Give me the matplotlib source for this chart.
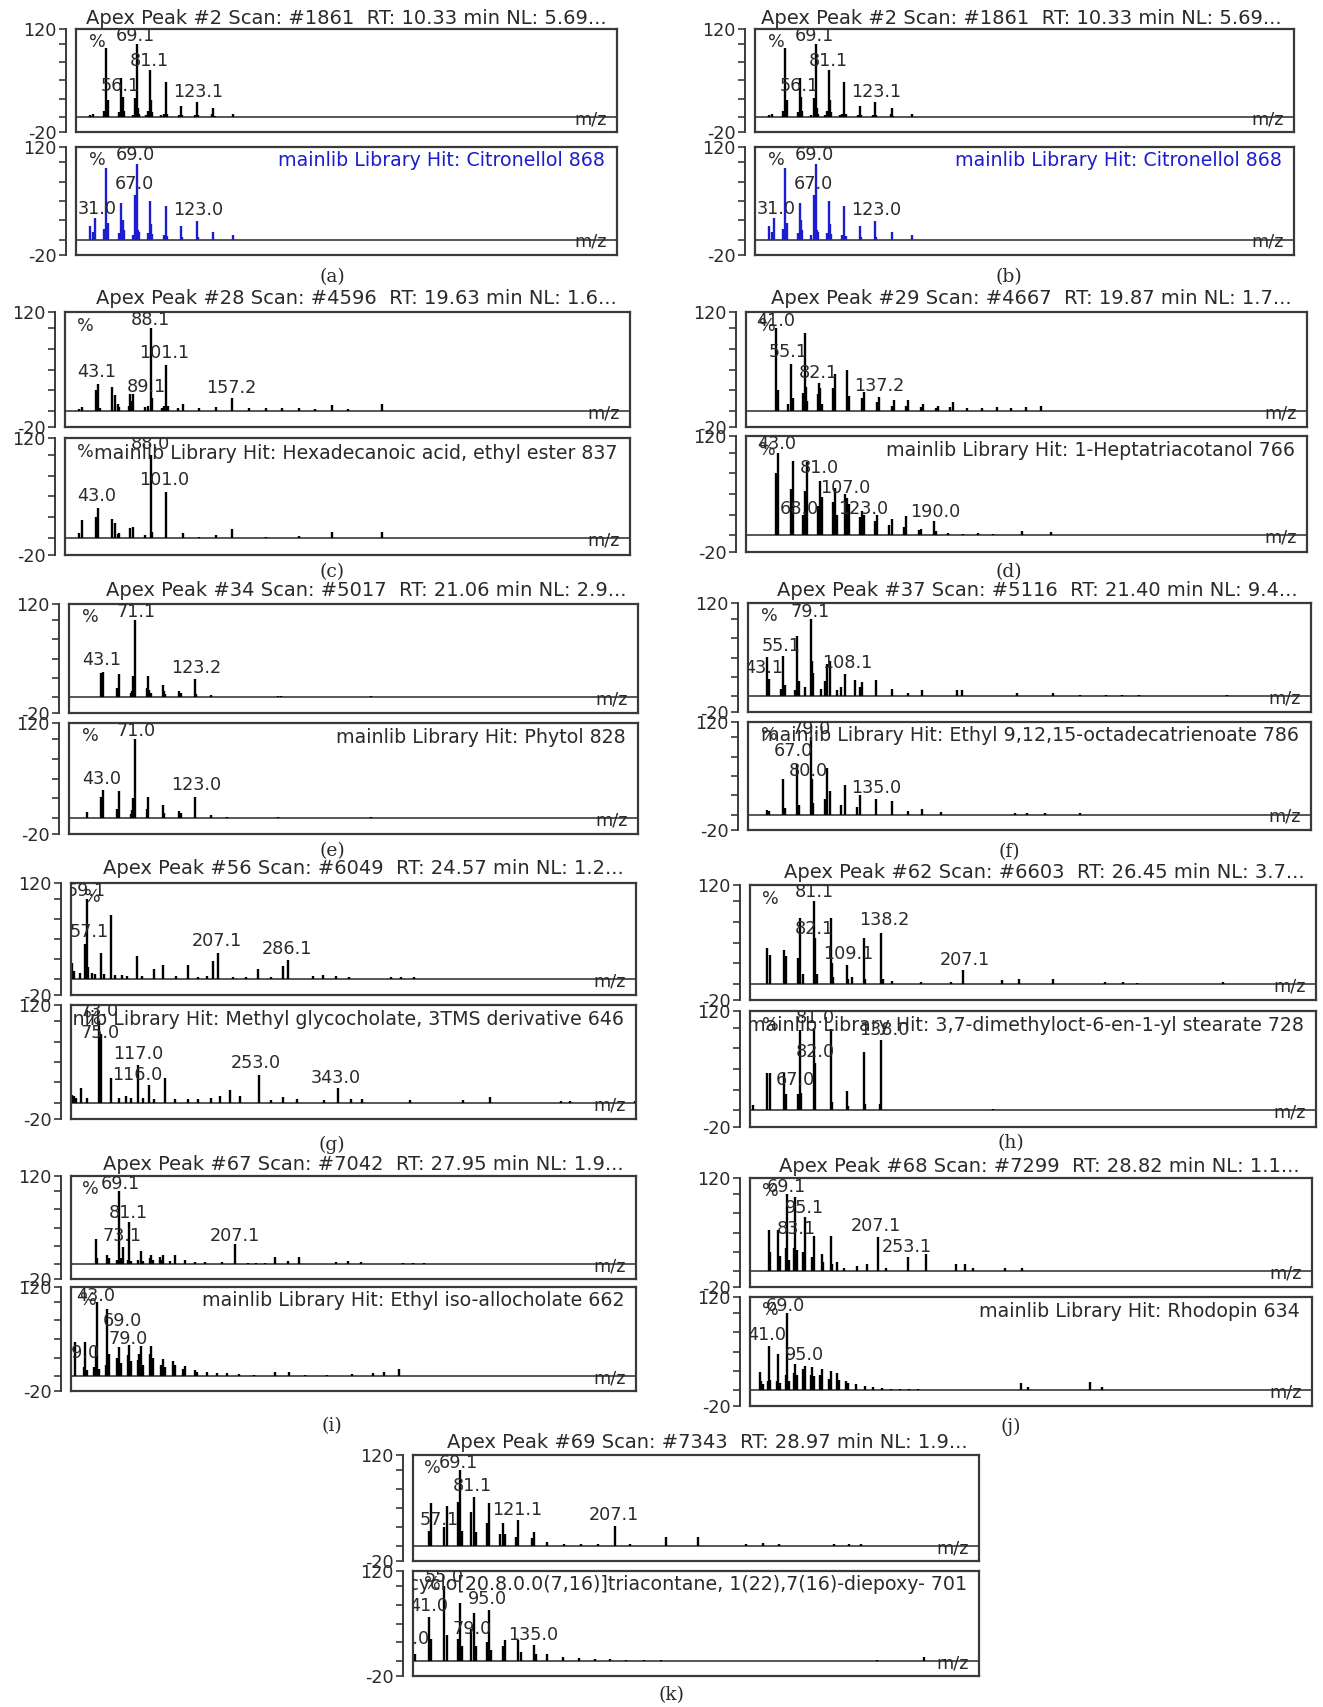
import matplotlib
matplotlib.use("Agg")
import matplotlib.pyplot as plt
from matplotlib.ticker import FixedLocator
from matplotlib.transforms import blended_transform_factory

# ---------------------------------------------------------------- data
TITLE_AB = "Apex Peak #2 Scan: #1861  RT: 10.33 min NL: 5.69..."
TITLE_C = "Apex Peak #28 Scan: #4596  RT: 19.63 min NL: 1.6..."
TITLE_D = "Apex Peak #29 Scan: #4667  RT: 19.87 min NL: 1.7..."
TITLE_E = "Apex Peak #34 Scan: #5017  RT: 21.06 min NL: 2.9..."
TITLE_F = "Apex Peak #37 Scan: #5116  RT: 21.40 min NL: 9.4..."
TITLE_G = "Apex Peak #56 Scan: #6049  RT: 24.57 min NL: 1.2..."
TITLE_H = "Apex Peak #62 Scan: #6603  RT: 26.45 min NL: 3.7..."
TITLE_I = "Apex Peak #67 Scan: #7042  RT: 27.95 min NL: 1.9..."
TITLE_J = "Apex Peak #68 Scan: #7299  RT: 28.82 min NL: 1.1..."
TITLE_K = "Apex Peak #69 Scan: #7343  RT: 28.97 min NL: 1.9..."

HIT_AB = "mainlib Library Hit: Citronellol 868"
HIT_C = "mainlib Library Hit: Hexadecanoic acid, ethyl ester 837"
HIT_D = "mainlib Library Hit: 1-Heptatriacotanol 766"
HIT_E = "mainlib Library Hit: Phytol 828"
HIT_F = "mainlib Library Hit: Ethyl 9,12,15-octadecatrienoate 786"
HIT_G = "mainlib Library Hit: Methyl glycocholate, 3TMS derivative 646"
HIT_H = "mainlib Library Hit: 3,7-dimethyloct-6-en-1-yl stearate 728"
HIT_I = "mainlib Library Hit: Ethyl iso-allocholate 662"
HIT_J = "mainlib Library Hit: Rhodopin 634"
HIT_K = "mainlib Library Hit: Tricyclo[20.8.0.0(7,16)]triacontane, 1(22),7(16)-diepoxy- 701"

# m/z ranges of each panel
XR_AB = (14, 502)
XR_C = (15, 494)
XR_D = (12.6, 546)
XR_E = (12.8, 512)
XR_F = (24.7, 510)
XR_G = (41.4, 678.5)
XR_H = (26.4, 507)
XR_I = (11.8, 682.6)
XR_J = (11.7, 870.6)
XR_K = (27, 532)

A_TOP_MZ = [27, 29, 39, 41, 42, 43, 53, 54, 55, 56, 57, 65, 67, 68, 69, 70, 71, 77, 79, 81, 82, 83,
            91, 93, 95, 96, 107, 109, 110, 121, 123, 124, 137, 138, 139, 147, 156, 256, 284]
A_TOP_INT = [3, 4, 8, 94, 6, 24, 7, 3, 54, 28, 9, 3, 26, 20, 100, 12, 5, 3, 8, 64, 24, 7,
             3, 5, 48, 5, 3, 16, 3, 3, 21, 3, 4, 13, 2, 1, 5, 1, 1]
A_BOT_MZ = [27, 29, 31, 39, 41, 42, 43, 53, 55, 56, 57, 65, 67, 68, 69, 70, 71, 79, 81, 82, 83,
            93, 95, 96, 109, 110, 123, 124, 138, 156]
A_BOT_INT = [17, 10, 28, 14, 93, 10, 22, 9, 48, 25, 12, 6, 58, 24, 98, 12, 10, 8, 50, 20, 7,
             6, 44, 5, 18, 3, 24, 3, 10, 6]

C_TOP_MZ = [27, 29, 41, 42, 43, 45, 55, 57, 60, 61, 69, 70, 71, 73, 83, 85, 88, 89, 97, 99, 101, 102,
            111, 115, 129, 143, 157, 171, 185, 199, 213, 227, 241, 255, 284]
C_TOP_INT = [2, 4, 25, 4, 32, 3, 29, 19, 8, 4, 6, 20, 12, 20, 4, 5, 100, 15, 3, 5, 55, 6,
             3, 8, 3, 4, 15, 3, 3, 3, 3, 2, 7, 2, 8]
C_BOT_MZ = [27, 29, 41, 43, 55, 57, 60, 61, 70, 73, 83, 88, 89, 101, 115, 129, 143, 157,
            185, 213, 241, 284]
C_BOT_INT = [6, 22, 26, 36, 23, 18, 5, 6, 12, 14, 4, 100, 8, 55, 6, 2, 4, 11, 2, 3, 7, 8]

D_TOP_MZ = [41, 43, 53, 55, 57, 67, 69, 70, 71, 81, 82, 83, 85, 95, 96, 97, 109, 111, 123, 125,
            137, 139, 151, 153, 165, 167, 179, 181, 193, 195, 207, 209, 223, 237, 251, 265, 279, 293]
D_TOP_INT = [100, 25, 8, 57, 15, 22, 95, 29, 12, 20, 33, 28, 8, 28, 12, 45, 49, 18, 15, 23,
             10, 17, 6, 13, 5, 13, 4, 8, 3, 6, 4, 10, 3, 3, 4, 3, 4, 6]
D_BOT_MZ = [41, 43, 55, 57, 67, 69, 71, 81, 83, 85, 95, 97, 99, 107, 109, 111, 121, 123, 125,
            135, 137, 149, 151, 163, 165, 177, 179, 191, 193, 205, 219, 233, 247, 275, 303]
D_BOT_INT = [75, 100, 56, 90, 25, 54, 89, 35, 66, 46, 40, 57, 25, 50, 45, 38, 22, 30, 25,
             18, 25, 12, 20, 10, 24, 6, 8, 17, 5, 3, 2, 3, 2, 5, 4]

E_TOP_MZ = [41, 43, 55, 57, 67, 68, 69, 71, 81, 82, 83, 85, 95, 96, 97, 109, 111, 123, 124, 137,
            165, 196, 199, 278]
E_TOP_INT = [31, 33, 12, 30, 6, 8, 27, 100, 12, 27, 10, 6, 16, 8, 5, 8, 6, 24, 4, 3, 1, 2, 2, 2]
E_BOT_MZ = [29, 41, 43, 55, 57, 67, 68, 69, 71, 81, 82, 95, 96, 109, 111, 123, 137, 151, 196, 278]
E_BOT_INT = [8, 27, 36, 12, 34, 5, 10, 25, 100, 12, 27, 16, 6, 9, 6, 27, 4, 1, 1, 1]

F_TOP_MZ = [41, 43, 53, 55, 57, 65, 67, 69, 74, 79, 80, 81, 88, 91, 93, 95, 101, 105, 108, 117,
            121, 123, 135, 149, 163, 175, 205, 209, 257, 288, 311, 333, 347, 362, 438]
F_TOP_INT = [51, 23, 10, 52, 15, 8, 77, 20, 12, 100, 46, 30, 10, 20, 42, 46, 8, 12, 29, 21,
             12, 19, 21, 10, 5, 8, 8, 8, 4, 5, 2, 2, 2, 2, 2]
F_BOT_MZ = [41, 43, 55, 57, 67, 69, 79, 80, 81, 91, 93, 95, 105, 108, 119, 121, 135, 149, 163,
            175, 191, 255, 265, 281, 311]
F_BOT_INT = [6, 4, 46, 8, 66, 12, 100, 46, 15, 20, 60, 30, 12, 38, 10, 25, 20, 17, 5, 7, 3, 2, 2, 2, 2]

G_TOP_MZ = [42, 45, 52, 57, 59, 61, 65, 69, 75, 79, 86, 91, 99, 105, 116, 121, 135, 145, 160, 173,
            185, 195, 201, 207, 224, 239, 252, 267, 280, 286, 314, 326, 340, 355, 402, 414, 428]
G_TOP_INT = [20, 10, 8, 44, 100, 15, 8, 6, 33, 6, 80, 5, 5, 4, 29, 4, 13, 17, 4, 17,
             3, 4, 22, 33, 3, 3, 13, 3, 16, 24, 4, 5, 4, 2, 2, 2, 2]
G_BOT_MZ = [43, 45, 47, 53, 59, 73, 75, 86, 95, 103, 109, 117, 123, 129, 135, 147, 159, 173, 185,
            199, 209, 221, 232, 253, 267, 281, 296, 327, 343, 357, 369, 424, 483, 514, 594, 604, 677]
G_BOT_INT = [10, 8, 6, 18, 6, 100, 85, 30, 6, 8, 6, 46, 6, 22, 5, 30, 5, 4, 5,
             6, 8, 16, 8, 34, 3, 7, 5, 3, 18, 4, 4, 3, 3, 7, 2, 2, 2]

H_TOP_MZ = [41, 43, 55, 57, 67, 69, 71, 81, 82, 83, 95, 96, 97, 109, 110, 113, 123, 124, 138, 139,
            147, 172, 197, 207, 240, 255, 284, 328, 343, 355, 428]
H_TOP_INT = [43, 35, 41, 34, 31, 80, 12, 100, 55, 12, 80, 25, 8, 23, 6, 8, 56, 6, 62, 6,
             3, 2, 2, 17, 4, 5, 5, 2, 2, 1, 2]
H_BOT_MZ = [29, 41, 43, 55, 57, 67, 69, 70, 81, 82, 95, 96, 109, 110, 123, 124, 137, 138, 233]
H_BOT_INT = [7, 45, 45, 45, 20, 20, 97, 21, 100, 57, 98, 10, 23, 5, 71, 8, 8, 85, 2]

I_TOP_MZ = [41, 43, 55, 57, 67, 69, 71, 73, 79, 81, 83, 91, 95, 97, 105, 107, 109, 117, 119, 121,
            129, 135, 147, 159, 171, 191, 207, 222, 232, 242, 254, 269, 282, 326, 341, 356, 406, 418, 431]
I_TOP_INT = [34, 8, 12, 8, 6, 100, 8, 24, 6, 58, 5, 6, 18, 5, 8, 12, 6, 10, 6, 12,
             5, 13, 6, 3, 3, 3, 27, 2, 2, 2, 10, 5, 10, 3, 5, 3, 2, 2, 2]
I_BOT_MZ = [17, 27, 29, 31, 39, 41, 43, 45, 53, 55, 57, 67, 69, 71, 79, 81, 83, 91, 93, 95, 97,
            105, 107, 109, 119, 121, 123, 133, 135, 145, 147, 159, 161, 173, 185, 197, 211, 229,
            254, 271, 290, 316, 345, 370, 384, 401]
I_BOT_INT = [46, 12, 46, 8, 12, 40, 100, 10, 15, 90, 30, 25, 39, 18, 28, 42, 20, 22, 30, 40, 15,
             30, 41, 25, 15, 23, 12, 20, 15, 10, 14, 8, 6, 5, 4, 4, 3, 2,
             6, 5, 2, 2, 3, 4, 6, 9]

J_TOP_MZ = [41, 43, 55, 57, 67, 69, 71, 79, 81, 83, 93, 95, 107, 109, 121, 123, 135, 137, 145,
            156, 175, 191, 207, 220, 253, 280, 327, 340, 352, 401, 427]
J_TOP_INT = [53, 25, 53, 20, 30, 100, 15, 30, 96, 28, 25, 70, 18, 46, 23, 12, 46, 10, 12,
             5, 7, 9, 44, 5, 19, 22, 10, 10, 4, 4, 4]
J_BOT_MZ = [27, 29, 31, 39, 41, 43, 53, 55, 57, 67, 69, 71, 79, 81, 83, 93, 95, 105, 107, 109,
            119, 121, 133, 135, 145, 147, 159, 161, 173, 187, 199, 213, 227, 241, 255, 269, 283,
            426, 437, 532, 549]
J_BOT_INT = [24, 12, 8, 12, 57, 14, 12, 47, 10, 20, 100, 12, 22, 34, 20, 28, 32, 20, 30, 18,
             20, 27, 15, 25, 22, 14, 12, 10, 8, 6, 4, 3, 2, 2, 2, 2, 1,
             10, 4, 11, 5]

K_TOP_MZ = [41, 43, 55, 57, 67, 69, 71, 79, 81, 83, 93, 95, 105, 107, 109, 119, 121, 133, 135,
            147, 162, 177, 192, 207, 221, 253, 281, 324, 339, 354, 403, 416, 427]
K_TOP_INT = [20, 56, 25, 52, 58, 100, 20, 45, 65, 18, 30, 56, 15, 30, 15, 12, 34, 10, 18,
             5, 2, 2, 2, 26, 3, 12, 12, 3, 4, 2, 2, 2, 2]
K_BOT_MZ = [29, 41, 43, 55, 57, 67, 69, 71, 79, 81, 83, 93, 95, 97, 107, 109, 121, 123, 135,
            137, 147, 161, 175, 189, 203, 217, 233, 248, 441, 483, 502]
K_BOT_INT = [10, 59, 30, 100, 35, 30, 77, 20, 43, 64, 20, 25, 68, 15, 20, 28, 28, 12, 21,
             10, 10, 6, 4, 3, 3, 2, 2, 1, 2, 5, 3]

# peak annotations: (text, m/z, height)
A_TOP_LBL = [("69.1", 68, 110), ("81.1", 80.4, 76), ("56.1", 54, 42), ("123.1", 124, 35)]
A_BOT_LBL = [("69.0", 68, 109), ("67.0", 66.6, 72), ("31.0", 33, 39), ("123.0", 124, 38)]
C_TOP_LBL = [("88.1", 87.8, 110), ("101.1", 99.2, 70), ("43.1", 42.2, 47), ("89.1", 84.3, 29),
             ("157.2", 156.1, 28)]
C_BOT_LBL = [("88.0", 87.8, 113), ("101.0", 99.2, 70), ("43.0", 42.2, 51)]
D_TOP_LBL = [("41.0", 41, 109), ("55.1", 53, 71), ("82.1", 81, 46), ("137.2", 139, 30)]
D_BOT_LBL = [("43.0", 42, 110), ("81.0", 82.4, 81), ("107.0", 107, 57), ("68.0", 63.6, 32),
             ("123.0", 124.4, 32), ("190.0", 192.4, 28)]
E_TOP_LBL = [("71.1", 71.7, 110), ("43.1", 41.4, 48), ("123.2", 124, 38)]
E_BOT_LBL = [("71.0", 71.7, 110), ("43.0", 41.4, 50), ("123.0", 124, 42)]
F_TOP_LBL = [("79.1", 78.3, 109), ("55.1", 53, 65), ("43.1", 38, 37), ("108.1", 110, 43)]
F_BOT_LBL = [("79.0", 79.4, 111), ("67.0", 64.2, 82), ("80.0", 76.7, 56), ("135.0", 135.6, 34)]
G_TOP_LBL = [("59.1", 58.9, 110), ("57.1", 62.2, 59), ("207.1", 205.6, 48), ("286.1", 284.6, 37)]
G_BOT_LBL = [("73.0", 73, 113), ("75.0", 74.4, 86), ("117.0", 117, 60), ("116.0", 116, 34),
             ("253.0", 250, 49), ("343.0", 340, 30)]
H_TOP_LBL = [("81.1", 81.3, 111), ("82.1", 81.3, 67), ("138.2", 140, 77), ("109.1", 110, 36),
             ("207.1", 209, 29)]
H_BOT_LBL = [("81.0", 81.7, 111), ("82.0", 81.7, 71), ("67.0", 65.3, 37), ("138.0", 140, 97)]
I_TOP_LBL = [("69.1", 70, 109), ("81.1", 80, 70), ("73.1", 72.5, 38), ("207.1", 206, 39)]
I_BOT_LBL = [("43.0", 41.7, 108), ("69.0", 72.5, 74), ("79.0", 80, 50), ("29.0", 22.7, 31)]
J_TOP_LBL = [("69.1", 67.1, 109), ("95.1", 94.7, 82), ("83.1", 82, 54), ("207.1", 204.7, 58),
             ("253.1", 251.7, 32)]
J_BOT_LBL = [("69.0", 66.4, 108), ("41.0", 37, 71), ("95.0", 94.7, 46)]
K_TOP_LBL = [("69.1", 67.1, 110), ("81.1", 79.5, 79), ("57.1", 50.8, 34), ("121.1", 119.6, 47),
             ("207.1", 205.9, 41)]
K_BOT_LBL = [("55.0", 54.8, 112), ("41.0", 40.9, 73), ("95.0", 93.4, 82), ("79.0", 79.5, 43),
             ("29.0", 25, 30), ("135.0", 134.6, 35)]

# ---------------------------------------------------------------- figure
W, H = 1323, 1707
DPI = 100
plt.rcParams['axes.unicode_minus'] = False
plt.rcParams['font.family'] = ['DejaVu Sans']
fig = plt.figure(figsize=(W / DPI, H / DPI), dpi=DPI)

TXT = '#2a2a2a'
LINE = '#3a3a3a'
BLUE = '#1c1cd0'
FS_LBL = 12.7
FS_HIT = 13.7
FS_TITLE = 14
SPINE_OFF = 10  # px


def px_axes(x0, x1, y0, y1):
    return fig.add_axes([x0 / W, 1 - y1 / H, (x1 - x0) / W, (y1 - y0) / H])


def spectrum(ax, mz, inten, xr, color, labels, pct_x, hit=None, hit_color=TXT):
    wpx = ax.get_position().width * W
    ax.set_xlim(*xr)
    ax.set_ylim(-20, 120)
    ax.vlines(mz, 0, inten, colors=color, lw=1.7, zorder=2)
    ax.axhline(0, color=LINE, lw=1.2, zorder=1.5)
    for s in ['top', 'right', 'bottom']:
        ax.spines[s].set_linewidth(1.6)
        ax.spines[s].set_color(LINE)
    ax.spines['left'].set_position(('outward', SPINE_OFF * 72 / DPI))
    ax.spines['left'].set_linewidth(1.4)
    ax.spines['left'].set_color(LINE)
    ax.plot([0, 0], [0, 1], transform=ax.transAxes, color=LINE, lw=1.6, clip_on=False)
    ax.set_xticks([])
    ax.set_yticks([-20, 120])
    ax.set_yticklabels(['-20', '120'])
    ax.yaxis.set_minor_locator(FixedLocator([0, 25, 50, 75, 100]))
    ax.tick_params(axis='y', which='both', direction='out', length=5, width=1.2,
                   color=LINE, labelsize=12.7, labelcolor=TXT, pad=2)
    ax.patch.set_alpha(0)
    bt = blended_transform_factory(ax.transAxes, ax.transData)
    ax.text(pct_x, 103, '%', ha='center', va='center', fontsize=FS_LBL, color=TXT, clip_on=True)
    ax.text(1 - 10 / wpx, -3, 'm/z', ha='right', va='center', transform=bt,
            fontsize=FS_LBL, color=TXT)
    for txt, x, y in labels:
        ax.text(x, y, txt, ha='center', va='center', fontsize=FS_LBL, color=TXT, clip_on=True)
    if hit:
        ax.text(1 - 12 / wpx, 102, hit, ha='right', va='center', transform=bt,
                fontsize=FS_HIT, color=hit_color, clip_on=True)


def panel(geom, title, cap, xr, top, bot, bot_color, hit, hit_color, pct_top, pct_bot):
    bx0, bx1, ty0, ty1, by0, by1, tx, tyy, cx, cy = geom
    ax1 = px_axes(bx0, bx1, ty0, ty1)
    spectrum(ax1, top[0], top[1], xr, 'black', top[2], pct_top)
    ax2 = px_axes(bx0, bx1, by0, by1)
    spectrum(ax2, bot[0], bot[1], xr, bot_color, bot[2], pct_bot, hit, hit_color)
    fig.text(tx / W, 1 - tyy / H, title, ha='right', va='center', fontsize=FS_TITLE, color=TXT)
    fig.text(cx / W, 1 - cy / H, cap, ha='center', va='center', fontsize=13.5,
             family='DejaVu Serif', color=TXT)


# geometry in pixels: box x0, x1, top y0, y1, bottom y0, y1, title right x, title y, caption x, y
panel((76, 617, 29, 132, 147, 255, 607, 18, 332, 277), TITLE_AB, '(a)', XR_AB,
      (A_TOP_MZ, A_TOP_INT, A_TOP_LBL), (A_BOT_MZ, A_BOT_INT, A_BOT_LBL), BLUE, HIT_AB, BLUE, 33, 33)
panel((755, 1294, 29, 132, 147, 255, 1282, 18, 1009, 277), TITLE_AB, '(b)', XR_AB,
      (A_TOP_MZ, A_TOP_INT, A_TOP_LBL), (A_BOT_MZ, A_BOT_INT, A_BOT_LBL), BLUE, HIT_AB, BLUE, 33, 33)
panel((65, 630, 312, 427, 438, 555, 617, 298, 332, 572), TITLE_C, '(c)', XR_C,
      (C_TOP_MZ, C_TOP_INT, C_TOP_LBL), (C_BOT_MZ, C_BOT_INT, C_BOT_LBL), 'black', HIT_C, TXT, 32.5, 32.5)
panel((746, 1307, 312, 427, 436, 552, 1292, 298, 1009, 572), TITLE_D, '(d)', XR_D,
      (D_TOP_MZ, D_TOP_INT, D_TOP_LBL), (D_BOT_MZ, D_BOT_INT, D_BOT_LBL), 'black', HIT_D, TXT, 33, 33)
panel((69, 638, 604, 713, 723, 834, 626, 591, 332, 851), TITLE_E, '(e)', XR_E,
      (E_TOP_MZ, E_TOP_INT, E_TOP_LBL), (E_BOT_MZ, E_BOT_INT, E_BOT_LBL), 'black', HIT_E, TXT, 31.2, 31.2)
panel((748, 1311, 603, 712, 722, 830, 1298, 591, 1009, 852), TITLE_F, '(f)', XR_F,
      (F_TOP_MZ, F_TOP_INT, F_TOP_LBL), (F_BOT_MZ, F_BOT_INT, F_BOT_LBL), 'black', HIT_F, TXT, 42.8, 42.8)
panel((71, 636, 883, 995, 1005, 1119, 624, 869, 332, 1145), TITLE_G, '(g)', XR_G,
      (G_TOP_MZ, G_TOP_INT, G_TOP_LBL), (G_BOT_MZ, G_BOT_INT, G_BOT_LBL), 'black', HIT_G, TXT, 65, 65)
panel((750, 1316, 885, 1000, 1011, 1127, 1305, 872, 1011, 1143), TITLE_H, '(h)', XR_H,
      (H_TOP_MZ, H_TOP_INT, H_TOP_LBL), (H_BOT_MZ, H_BOT_INT, H_BOT_LBL), 'black', HIT_H, TXT, 43.9, 43.9)
panel((71, 636, 1176, 1279, 1287, 1391, 624, 1165, 332, 1426), TITLE_I, '(i)', XR_I,
      (I_TOP_MZ, I_TOP_INT, I_TOP_LBL), (I_BOT_MZ, I_BOT_INT, I_BOT_LBL), 'black', HIT_I, TXT, 35.2, 32.7)
panel((750, 1312, 1178, 1287, 1297, 1406, 1300, 1167, 1011, 1427), TITLE_J, '(j)', XR_J,
      (J_TOP_MZ, J_TOP_INT, J_TOP_LBL), (J_BOT_MZ, J_BOT_INT, J_BOT_LBL), 'black', HIT_J, TXT, 43.2, 43.2)
panel((413, 979, 1455, 1561, 1571, 1676, 968, 1443, 672, 1695), TITLE_K, '(k)', XR_K,
      (K_TOP_MZ, K_TOP_INT, K_TOP_LBL), (K_BOT_MZ, K_BOT_INT, K_BOT_LBL), 'black', HIT_K, TXT, 44.6, 44.6)

fig.savefig('out.png', dpi=DPI, facecolor='white')
